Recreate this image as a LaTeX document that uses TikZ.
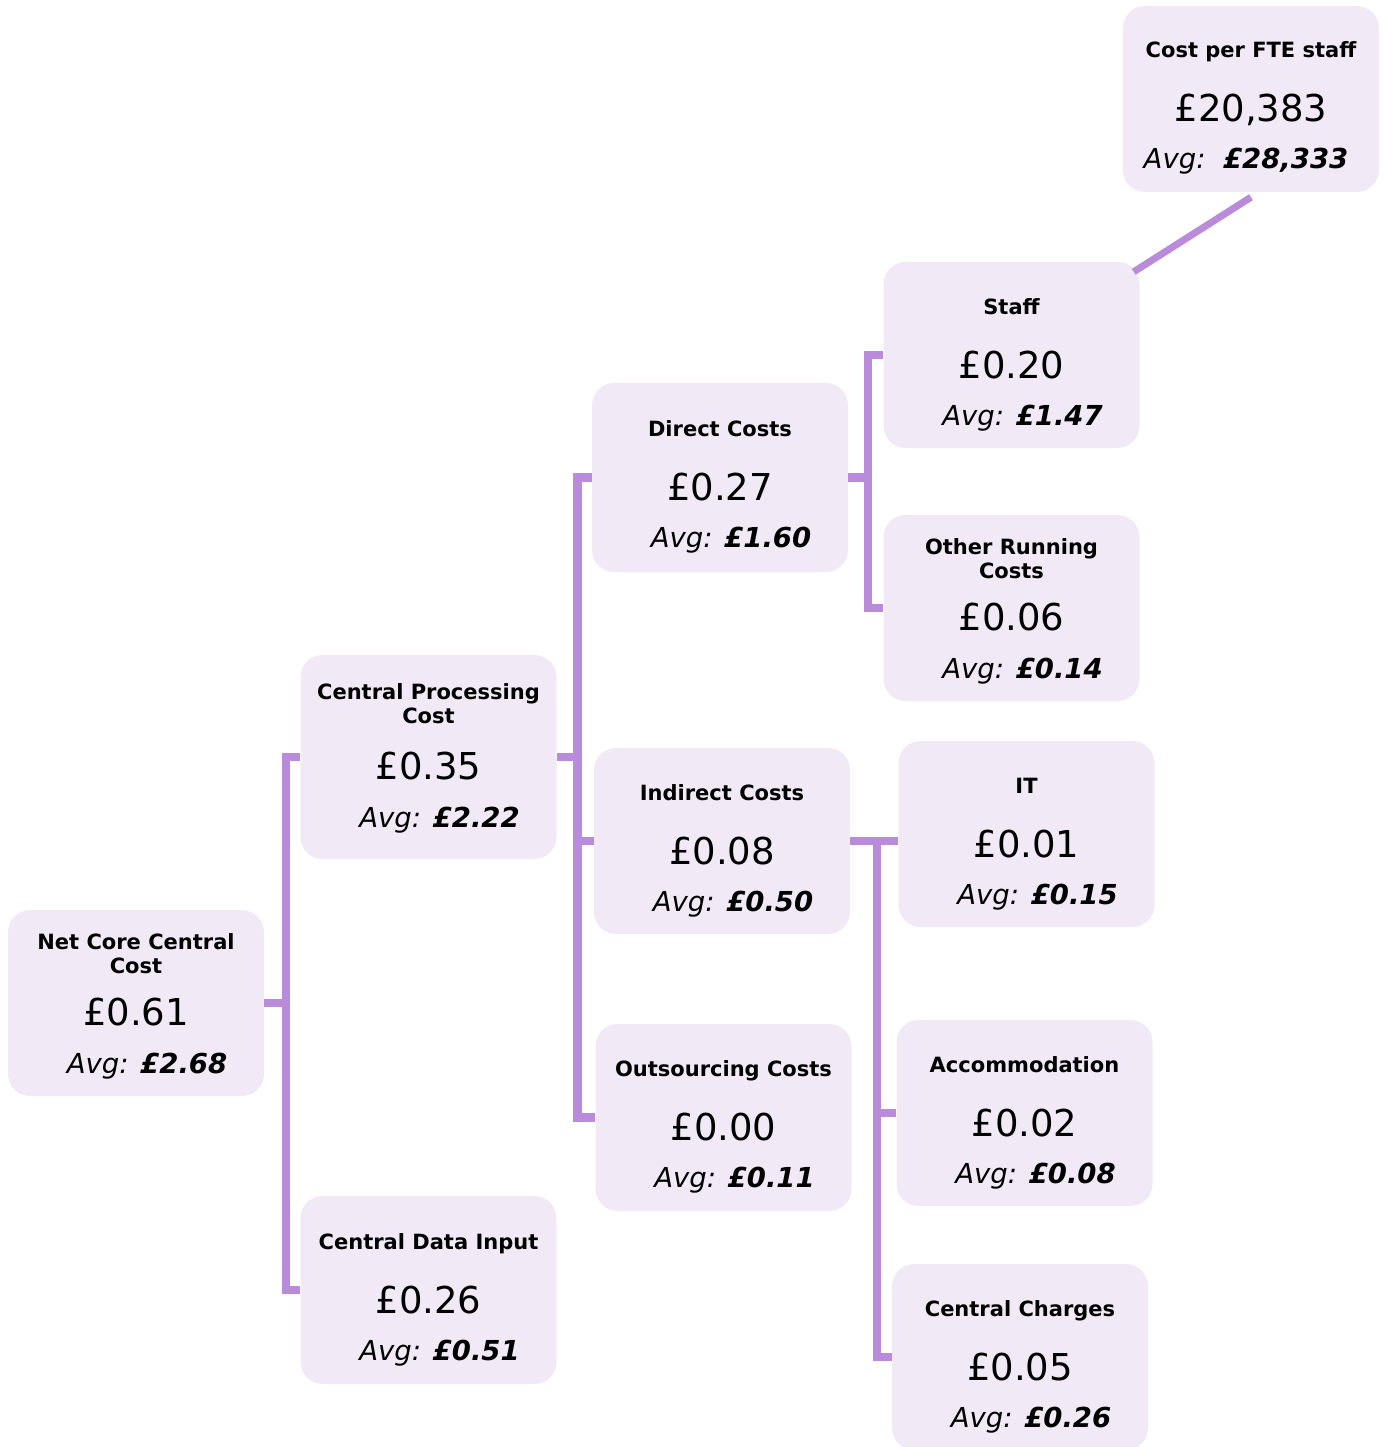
\documentclass[tikz,border=0pt]{standalone}
\usepackage{fontspec}
\setmainfont{DejaVu Sans}
\usetikzlibrary{calc}
\definecolor{boxfill}{HTML}{F2E9F7}
\definecolor{linec}{HTML}{BB8BDB}
\tikzset{
 cbx/.style={fill=boxfill, draw=none, rounded corners=22pt, minimum width=256pt, inner sep=0pt},
 ttl/.style={font=\bfseries\fontsize{21}{25}\selectfont, inner sep=0pt, anchor=base},
 val/.style={font=\fontsize{37}{42}\selectfont, inner sep=0pt, anchor=base},
 avg/.style={font=\itshape\fontsize{27.5}{32}\selectfont, inner sep=0pt, anchor=base},
 conn/.style={draw=linec, line width=8.5pt},
}
\newcommand\cboxA[7]{%
 \node[cbx, minimum height=#4] (#1) at (#2,#3) {};
 \node[ttl] (#1-t) at ([yshift=41pt]#1.center) {#5};
 \node[val] (#1-v) at ([yshift=-23pt]#1.center) {#6};
 \node[avg] (#1-a) at ([xshift=11pt,yshift=-70pt]#1.center) {Avg: \textbf{#7}};
}
\newcommand\cboxB[9]{%
 \node[cbx, minimum height=#4] (#1) at (#2,#3) {};
 \node[ttl] (#1-t1) at ([yshift=54pt+#9]#1.center) {#5};
 \node[ttl] (#1-t2) at ([yshift=30pt+#9]#1.center) {#6};
 \node[val] (#1-v) at ([yshift=-22pt]#1.center) {#7};
 \node[avg] (#1-a) at ([xshift=11pt,yshift=-70pt]#1.center) {Avg: \textbf{#8}};
}
\begin{document}
\begin{tikzpicture}[x=1pt, y=-1pt]
\useasboundingbox (0,0) rectangle (1383,1447);
\cboxB{ncc}{136}{1003}{186pt}{Net Core Central}{Cost}{£0.61}{£2.68}{0pt}
\cboxB{cpc}{428.5}{757}{204pt}{Central Processing}{Cost}{£0.35}{£2.22}{4pt}
\cboxA{cdi}{428.5}{1290}{188pt}{Central Data Input}{£0.26}{£0.51}
\cboxA{dc}{720}{477.5}{189pt}{Direct Costs}{£0.27}{£1.60}
\cboxA{ic}{722}{841}{186pt}{Indirect Costs}{£0.08}{£0.50}
\cboxA{oc}{723.5}{1117.5}{187pt}{Outsourcing Costs}{£0.00}{£0.11}
\cboxA{st}{1011.5}{355}{186pt}{Staff}{£0.20}{£1.47}
\cboxB{orc}{1011.5}{608}{186pt}{Other Running}{Costs}{£0.06}{£0.14}{0pt}
\cboxA{it}{1026.5}{834}{186pt}{IT}{£0.01}{£0.15}
\cboxA{acc}{1024.5}{1113}{186pt}{Accommodation}{£0.02}{£0.08}
\cboxA{cc}{1020}{1357}{186pt}{Central Charges}{£0.05}{£0.26}
\node[cbx, minimum height=186pt] (fte) at (1251,99) {};
\node[ttl] (fte-t) at ([yshift=41pt]fte.center) {Cost per FTE staff};
\node[val] (fte-v) at ([yshift=-23pt]fte.center) {£20,383};
\node[avg] (fte-a) at ([xshift=-5pt,yshift=-70pt]fte.center) {Avg:\ \ \textbf{£28,333}};
% connectors
\coordinate (j1) at ($(ncc.east)+(22,0)$);
\draw[conn] (cpc.west) -| (j1) -- (ncc.east);
\draw[conn] (cdi.west) -| (j1);
\coordinate (j2) at ($(cpc.east)+(21,0)$);
\draw[conn] (dc.west) -| (j2) -- (cpc.east);
\draw[conn] (oc.west) -| (j2);
\draw[conn] (ic.west) -- (ic.west -| j2);
\coordinate (j3) at ($(dc.east)+(20,0)$);
\draw[conn] (st.west) -| (j3) -- (dc.east);
\draw[conn] (orc.west) -| (j3);
\coordinate (j4) at ($(ic.east)+(27,0)$);
\draw[conn] (ic.east) -- (ic.east -| it.west);
\draw[conn] (cc.west) -| (j4);
\draw[conn] (acc.west) -- (acc.west -| j4);
\draw[conn, line width=7pt] ($(st.north east)+(-6,10)$) -- ($(fte.south)+(0,5)$);
\end{tikzpicture}
\end{document}
